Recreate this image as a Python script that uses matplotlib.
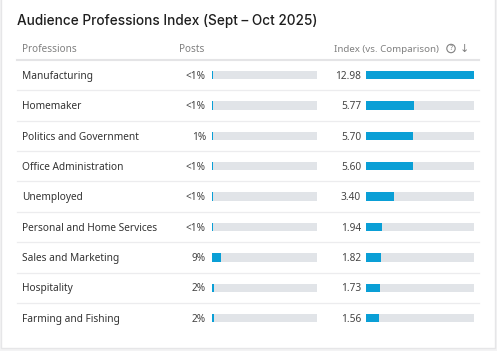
import matplotlib
matplotlib.use("Agg")
import matplotlib.pyplot as plt
from matplotlib.patches import Rectangle

# ---- data ----
professions = ["Manufacturing", "Homemaker", "Politics and Government", "Office Administration",
               "Unemployed", "Personal and Home Services", "Sales and Marketing", "Hospitality",
               "Farming and Fishing"]
posts_labels = ["<1%", "<1%", "1%", "<1%", "<1%", "<1%", "9%", "2%", "2%"]
posts_values = [0.6, 0.6, 1.2, 0.6, 0.6, 0.6, 9.0, 2.0, 2.0]
index_values = [12.98, 5.77, 5.70, 5.60, 3.40, 1.94, 1.82, 1.73, 1.56]
title = "Audience Professions Index (Sept – Oct 2025)"
headers = ["Professions", "Posts", "Index (vs. Comparison)"]

W, H = 497, 351
fig = plt.figure(figsize=(W / 100, H / 100), dpi=100)
fig.patch.set_facecolor("#f3f3f4")

bg = fig.add_axes([0, 0, 1, 1])
bg.set_xlim(0, W)
bg.set_ylim(H, 0)
bg.axis("off")

# card
bg.add_patch(Rectangle((0.5, -2), 494.5, 350, facecolor="white", edgecolor="#e6e6e8", lw=1.0))

FONT = "Noto Sans"
FS = 7.3
bg.text(17, 21, title, fontsize=9.8, family="Inter", fontweight="medium", color="#1e1e1e",
        va="center", ha="left")

hy = 49
bg.text(22, hy, headers[0], fontsize=7.2, family=FONT, color="#808080", va="center")
bg.text(179, hy, headers[1], fontsize=7.2, family=FONT, color="#808080", va="center")
bg.text(334, hy, headers[2], fontsize=7.0, family=FONT, color="#808080", va="center")
bg.text(451, hy - 0.5, "?", fontsize=5.0, family=FONT, color="#808080", va="center", ha="center")
bg.add_patch(plt.Circle((451, hy - 0.5), 4.2, fill=False, edgecolor="#808080", lw=0.8))
bg.text(464, hy, "\u2193", fontsize=8, family="DejaVu Sans", color="#808080", va="center", ha="center")
bg.plot([17, 479], [59.5, 59.5], color="#e4e4e6", lw=1.5)

y0, dy = 75, 30.4
n = len(professions)
for i, name in enumerate(professions):
    y = y0 + i * dy + 1.2
    bg.text(22, y, name, fontsize=FS, family=FONT, color="#333333", va="center")
    bg.text(206, y, posts_labels[i], fontsize=FS, family=FONT, color="#444444", va="center", ha="right")
    bg.text(361, y, f"{index_values[i]:.2f}", fontsize=FS, family=FONT, color="#444444", va="center", ha="right")
    if i < n - 1:
        yl = y0 + i * dy + dy / 2
        bg.plot([17, 479], [yl, yl], color="#ececee", lw=0.9)

top = y0 - dy / 2
bottom = y0 + (n - 0.5) * dy

def bar_axes(x0, x1, vmax, values):
    ax = fig.add_axes([x0 / W, 1 - bottom / H, (x1 - x0) / W, (bottom - top) / H])
    ax.set_xlim(0, vmax)
    ax.set_ylim(n - 0.5, -0.5)
    ax.axis("off")
    ax.patch.set_alpha(0)
    ys = list(range(n))
    ax.barh(ys, [vmax] * n, height=0.27, color="#e1e4e8")
    ax.barh(ys, values, height=0.27, color="#0a9fd6")
    return ax

bar_axes(212, 316.5, 100, posts_values)
bar_axes(366, 474, max(index_values), index_values)

fig.savefig("out.png", dpi=100, facecolor=fig.get_facecolor())
